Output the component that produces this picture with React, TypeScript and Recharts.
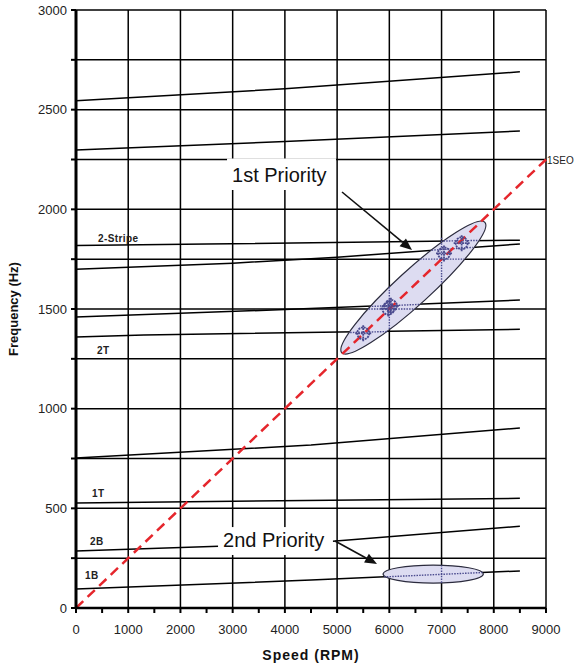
import { CartesianGrid, ComposedChart, Line, ReferenceArea, ReferenceLine, Scatter, XAxis, YAxis } from 'recharts'

const FONT = '"Liberation Sans", Arial, Helvetica, sans-serif'

// axes
const xTicks = [0, 500, 1000, 1500, 2000, 2500, 3000, 3500, 4000, 4500, 5000, 5500, 6000, 6500, 7000, 7500, 8000, 8500, 9000]
const yTicks = [0, 250, 500, 750, 1000, 1250, 1500, 1750, 2000, 2250, 2500, 2750, 3000]
const xGrid = [1000, 2000, 3000, 4000, 5000, 6000, 7000, 8000, 9000]

// natural frequency modes (Hz vs RPM)
const modeA = [{ x: 0, y: 2545 }, { x: 4000, y: 2605 }, { x: 8500, y: 2690 }]
const modeB = [{ x: 0, y: 2298 }, { x: 4000, y: 2340 }, { x: 8500, y: 2393 }]
const mode2Stripe = [{ x: 0, y: 1818 }, { x: 2500, y: 1826 }, { x: 8500, y: 1845 }]
const modeD = [{ x: 0, y: 1700 }, { x: 3000, y: 1730 }, { x: 5000, y: 1760 }, { x: 8500, y: 1826 }]
const modeE = [{ x: 0, y: 1460 }, { x: 4000, y: 1497 }, { x: 8500, y: 1545 }]
const mode2T = [{ x: 0, y: 1360 }, { x: 1300, y: 1370 }, { x: 8500, y: 1398 }]
const modeG = [{ x: 0, y: 752 }, { x: 4500, y: 818 }, { x: 8500, y: 903 }]
const mode1T = [{ x: 0, y: 527 }, { x: 8500, y: 550 }]
const mode2B = [{ x: 0, y: 286 }, { x: 4500, y: 326 }, { x: 8500, y: 410 }]
const mode1B = [{ x: 0, y: 95 }, { x: 4500, y: 140 }, { x: 8500, y: 186 }]
const modes = [modeA, modeB, mode2Stripe, modeD, modeE, mode2T, modeG, mode1T, mode2B, mode1B]

// 1SEO excitation line
const seo = [{ x: 0, y: 0 }, { x: 9000, y: 2250 }]

// measured crossings
const testPoints = [
  { x: 5500, y: 1378 },
  { x: 5980, y: 1502 },
  { x: 6030, y: 1516 },
  { x: 7047, y: 1779 },
  { x: 7385, y: 1830 },
]

const modeLabels = [
  { x: 421, y: 1836, text: '2-Stripe' },
  { x: 402, y: 1274, text: '2T' },
  { x: 306, y: 557, text: '1T' },
  { x: 268, y: 316, text: '2B' },
  { x: 172, y: 145, text: '1B' },
]

const priorityBoxes = [
  { text: '1st Priority', x1: 2892, x2: 4979, y1: 2097, y2: 2255 },
  { text: '2nd Priority', x1: 2720, x2: 4920, y1: 266, y2: 406 },
]

const arrows = [
  [{ x: 5094, y: 2087 }, { x: 6434, y: 1796 }],
  [{ x: 4960, y: 336 }, { x: 5764, y: 221 }],
]

const priority1Zone = { x1: 5090, x2: 7830, y1: 1280, y2: 1935 }
const priority2Zone = { x1: 5880, x2: 7800, y1: 125, y2: 215 }

// grid and mode lines as seen through the shaded zones
const seenThrough = [
  [{ x: 6000, y: 1400 }, { x: 6000, y: 1615 }],
  [{ x: 7000, y: 1633 }, { x: 7000, y: 1859 }],
  [{ x: 5603, y: 1500 }, { x: 6492, y: 1500 }],
  [{ x: 6590, y: 1750 }, { x: 7430, y: 1750 }],
  [{ x: 5250, y: 1382 }, { x: 5960, y: 1387 }],
  [{ x: 5665, y: 1513 }, { x: 6570, y: 1523 }],
  [{ x: 6810, y: 1795 }, { x: 7597, y: 1809 }],
  [{ x: 7037, y: 1841 }, { x: 7706, y: 1844 }],
  [{ x: 5900, y: 156 }, { x: 7780, y: 178 }],
  [{ x: 7000, y: 127 }, { x: 7000, y: 213 }],
]

const ZONE_FILL = '#dddcf1'
const ZONE_STROKE = '#2b2b3d'
const MARK = '#4a4a8e'

function TiltedZone(props: any) {
  const { x, y, width, height } = props
  const cx = x + width / 2
  const cy = y + height / 2
  const rx = Math.hypot(width, height) / 2
  const angle = (-Math.atan2(height, width) * 180) / Math.PI
  return (
    <ellipse cx={cx} cy={cy} rx={rx} ry={17} transform={`rotate(${angle} ${cx} ${cy})`}
      fill={ZONE_FILL} stroke={ZONE_STROKE} strokeWidth={1.2} />
  )
}

function FlatZone(props: any) {
  const { x, y, width, height } = props
  return (
    <ellipse cx={x + width / 2} cy={y + height / 2} rx={width / 2} ry={height / 2}
      fill={ZONE_FILL} stroke={ZONE_STROKE} strokeWidth={1.2} />
  )
}

function CrossedCircle(props: any) {
  const { cx, cy } = props
  return (
    <g stroke={MARK} strokeWidth={1.8} fill="none" strokeDasharray="2 0.8">
      <circle cx={cx} cy={cy} r={6} />
      <line x1={cx - 8} y1={cy} x2={cx + 8} y2={cy} />
      <line x1={cx} y1={cy - 8} x2={cx} y2={cy + 8} />
    </g>
  )
}

function ModeLabel(props: any) {
  const { cx, cy, payload } = props
  return (
    <text x={cx} y={cy} fontFamily={FONT} fontSize={10} fontWeight="bold" fill="#222" letterSpacing={0.4}>
      {payload.text}
    </text>
  )
}

function makeBox(text: string) {
  return (props: any) => {
    const { x, y, width, height } = props
    return (
      <g>
        <rect x={x} y={y} width={width} height={height} fill="#fff" />
        <text x={x + 5} y={y + height - 8} fontFamily={FONT} fontSize={20} fill="#111">{text}</text>
      </g>
    )
  }
}

function Arrow(props: any) {
  const { x1, y1, x2, y2 } = props
  const a = Math.atan2(y2 - y1, x2 - x1)
  const len = 12
  const half = 5
  const bx = x2 - len * Math.cos(a)
  const by = y2 - len * Math.sin(a)
  const px = -Math.sin(a) * half
  const py = Math.cos(a) * half
  return (
    <g>
      <line x1={x1} y1={y1} x2={bx} y2={by} stroke="#111" strokeWidth={1.6} />
      <polygon points={`${x2},${y2} ${bx + px},${by + py} ${bx - px},${by - py}`} fill="#111" />
    </g>
  )
}

export default function App() {
  return (
    <div style={{ position: 'absolute', left: 0, top: 0, width: 575, height: 671, background: '#fff' }}>
      <ComposedChart width={575} height={671} margin={{ top: 10, right: 29, bottom: 0, left: 0 }}>
        <CartesianGrid vertical={false} stroke="#000" strokeWidth={1.5} />
        <XAxis type="number" dataKey="x" domain={[0, 9000]} ticks={xTicks} interval={0}
          tickFormatter={(v: number) => (v % 1000 === 0 ? String(v) : '')}
          height={63} tickSize={5} tickMargin={12}
          axisLine={{ stroke: '#000', strokeWidth: 2.5 }} tickLine={{ stroke: '#000', strokeWidth: 2 }}
          tick={{ fontFamily: FONT, fontSize: 13, fill: '#222' }}
          label={{ value: 'Speed (RPM)', position: 'insideBottom', offset: 11, fontFamily: FONT, fontSize: 14, fontWeight: 'bold', fill: '#111', letterSpacing: 1 }} />
        <YAxis type="number" domain={[0, 3000]} ticks={yTicks} interval={0}
          tickFormatter={(v: number) => (v % 500 === 0 ? String(v) : '')}
          width={76} tickSize={5} tickMargin={4}
          axisLine={{ stroke: '#000', strokeWidth: 3 }} tickLine={{ stroke: '#000', strokeWidth: 2 }}
          tick={{ fontFamily: FONT, fontSize: 13, fill: '#222' }}
          label={{ value: 'Frequency (Hz)', angle: -90, position: 'insideLeft', offset: 13, fontFamily: FONT, fontSize: 13, fontWeight: 'bold', fill: '#111', style: { textAnchor: 'middle' } }} />

        {xGrid.map((x) => (
          <ReferenceLine key={`g${x}`} x={x} stroke="#000" strokeWidth={1.5} />
        ))}

        {modes.map((m, i) => (
          <Line key={`m${i}`} data={m} dataKey="y" type="linear" stroke="#000" strokeWidth={1.5}
            dot={false} activeDot={false} isAnimationActive={false} />
        ))}

        <ReferenceArea {...priority1Zone} shape={TiltedZone} zIndex={450} />
        <ReferenceArea {...priority2Zone} shape={FlatZone} zIndex={450} />

        {seenThrough.map((s, i) => (
          <ReferenceLine key={`d${i}`} segment={s} stroke={MARK} strokeWidth={1.4} strokeDasharray="1.5 1.2" zIndex={460} />
        ))}

        <Line data={seo} dataKey="y" type="linear" stroke="#e5262c" strokeWidth={2.5} strokeDasharray="10 6"
          dot={false} activeDot={false} isAnimationActive={false} zIndex={470} />

        <Scatter data={testPoints} dataKey="y" shape={CrossedCircle} isAnimationActive={false} zIndex={600} />

        {priorityBoxes.map((b) => (
          <ReferenceArea key={b.text} x1={b.x1} x2={b.x2} y1={b.y1} y2={b.y2} shape={makeBox(b.text)} zIndex={700} />
        ))}

        {arrows.map((s, i) => (
          <ReferenceLine key={`a${i}`} segment={s} shape={Arrow} zIndex={800} />
        ))}

        <Scatter data={modeLabels} dataKey="y" shape={ModeLabel} isAnimationActive={false} zIndex={900} />
        <Scatter data={[{ x: 9000, y: 2250, text: '1SEO' }]} dataKey="y" isAnimationActive={false} zIndex={900}
          shape={(p: any) => (
            <text x={p.cx + 1} y={p.cy + 4} fontFamily={FONT} fontSize={10} fill="#222">{p.payload.text}</text>
          )} />
      </ComposedChart>
    </div>
  )
}
